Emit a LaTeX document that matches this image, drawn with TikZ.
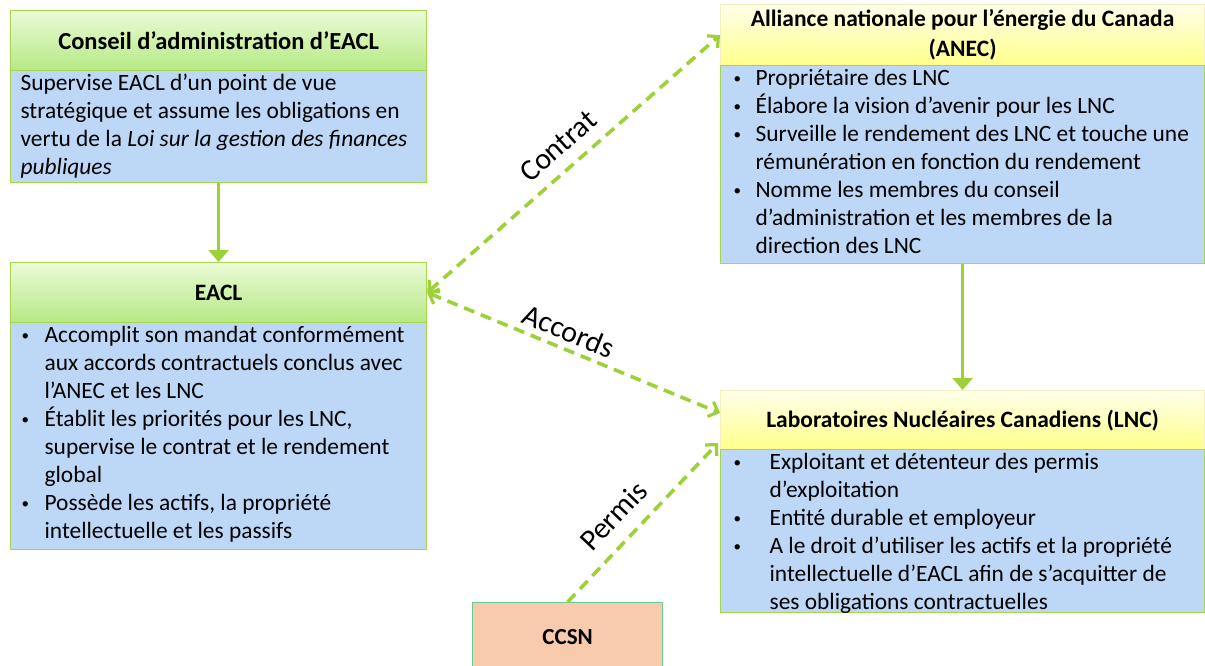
\documentclass[tikz,border=0pt]{standalone}
\usepackage{fontspec}
\setmainfont{Carlito}
\usetikzlibrary{arrows.meta}
\definecolor{gtop}{HTML}{EAFAD6}
\definecolor{gbot}{HTML}{B6E985}
\definecolor{gborder}{HTML}{A6D64A}
\definecolor{ytop}{HTML}{FFFFEA}
\definecolor{ybot}{HTML}{FFFF8A}
\definecolor{yborder}{HTML}{F2EFC0}
\definecolor{bodyblue}{HTML}{BDD7F7}
\definecolor{arrowgreen}{HTML}{9ED03A}
\definecolor{peach}{HTML}{F8CBAD}
\definecolor{peachborder}{HTML}{66CC99}
\newcommand\bl[2]{\par\hangindent=#1\hangafter=1\noindent\strut\makebox[#1][l]{\hspace{1pt}\raisebox{2pt}{\fontsize{15}{15}\selectfont\textbullet}}#2}
\begin{document}
\begin{tikzpicture}[x=1pt,y=-1pt,
  hdrG/.style={draw=gborder, line width=1.2pt, top color=gtop, bottom color=gbot,
    font=\bfseries\fontsize{23.5}{30}\selectfont, align=center, inner sep=0pt, anchor=north west},
  hdrY/.style={draw=yborder, line width=1.2pt, top color=ytop, bottom color=ybot,
    font=\bfseries\fontsize{23.5}{30}\selectfont, align=center, inner sep=0pt, anchor=north west},
  bodybox/.style={draw=gborder, line width=1.2pt, fill=bodyblue, inner ysep=0pt,
    inner xsep=10pt, anchor=north west, font=\fontsize{23.4}{28}\selectfont},
  dasharrow/.style={draw=arrowgreen, line width=3.6pt, dash pattern=on 11pt off 7pt,
    arrows={Straight Barb[length=8pt,width=16pt,line width=3.2pt]-Straight Barb[length=8pt,width=16pt,line width=3.2pt]}},
  dasharrowone/.style={draw=arrowgreen, line width=3.6pt, dash pattern=on 11pt off 7pt,
    arrows={-Straight Barb[length=8pt,width=16pt,line width=3.2pt]}},
  solidarrow/.style={draw=arrowgreen, line width=3.6pt, arrows={-Triangle[length=12pt,width=20pt]}},
  lbl/.style={font=\fontsize{30}{32}\selectfont, sloped, inner sep=1pt}
]
\useasboundingbox (0,0) rectangle (1205,665);

% Conseil
\node[hdrG, font=\bfseries\fontsize{24.5}{30}\selectfont, minimum width=416pt, minimum height=60pt] (conseilh) at (10,10) {Conseil d’administration d’EACL};
\node[bodybox] (conseilb) at (10,70) {\parbox[t][112pt][t]{396pt}{\noindent\strut Supervise EACL d’un point de vue\\
stratégique et assume les obligations en\\
vertu de la \textit{Loi sur la gestion des finances}\\
\textit{publiques}}};

% EACL
\node[hdrG, minimum width=416pt, minimum height=60pt] (eaclh) at (10,262) {EACL};
\node[bodybox] (eaclb) at (10,322) {\parbox[t][227pt][t]{396pt}{%
\bl{24pt}{Accomplit son mandat conformément\\ aux accords contractuels conclus avec\\ l’ANEC et les LNC}
\bl{24pt}{Établit les priorités pour les LNC,\\ supervise le contrat et le rendement\\ global}
\bl{24pt}{Possède les actifs, la propriété\\ intellectuelle et les passifs}}};

% ANEC
\node[hdrY, minimum width=484pt, minimum height=61pt] (anech) at (720,4) {Alliance nationale pour l’énergie du Canada\\(ANEC)};
\node[bodybox, inner xsep=12pt] (anecb) at (720,65) {\parbox[t][198pt][t]{460pt}{%
\bl{23pt}{Propriétaire des LNC}
\bl{23pt}{Élabore la vision d’avenir pour les LNC}
\bl{23pt}{Surveille le rendement des LNC et touche une\\ rémunération en fonction du rendement}
\bl{23pt}{Nomme les membres du conseil\\ d’administration et les membres de la\\ direction des LNC}}};

% LNC
\node[hdrY, minimum width=484pt, minimum height=59pt] (lnch) at (720,390) {Laboratoires Nucléaires Canadiens (LNC)};
\node[bodybox, inner xsep=12pt] (lncb) at (720,449) {\parbox[t][163pt][t]{460pt}{%
\bl{37pt}{Exploitant et détenteur des permis\\ d’exploitation}
\bl{37pt}{Entité durable et employeur}
\bl{37pt}{A le droit d’utiliser les actifs et la propriété\\ intellectuelle d’EACL afin de s’acquitter de\\ ses obligations contractuelles}}};

% CCSN
\node[draw=peachborder, line width=1.2pt, fill=peach, minimum width=190pt, minimum height=68pt,
  anchor=north west, font=\bfseries\fontsize{23}{28}\selectfont, inner sep=0pt] (ccsn) at (472,602) {CCSN};

% connectors
\draw[solidarrow] (conseilb.south) -- (eaclh.north);
\draw[solidarrow] (anecb.south) -- (lnch.north);
\coordinate (accordsend) at (720,413);
\coordinate (permisend) at (718,443);
\draw[dasharrow] (eaclh.east) -- node[lbl, above=11pt, pos=0.5] {Contrat} (anech.west);
\draw[dasharrow] (eaclh.east) -- node[lbl, above=5pt, pos=0.46] {Accords} (accordsend);
\draw[dasharrowone] (ccsn.north) -- node[lbl, above=13pt, pos=0.43] {Permis} (permisend);
\end{tikzpicture}
\end{document}
